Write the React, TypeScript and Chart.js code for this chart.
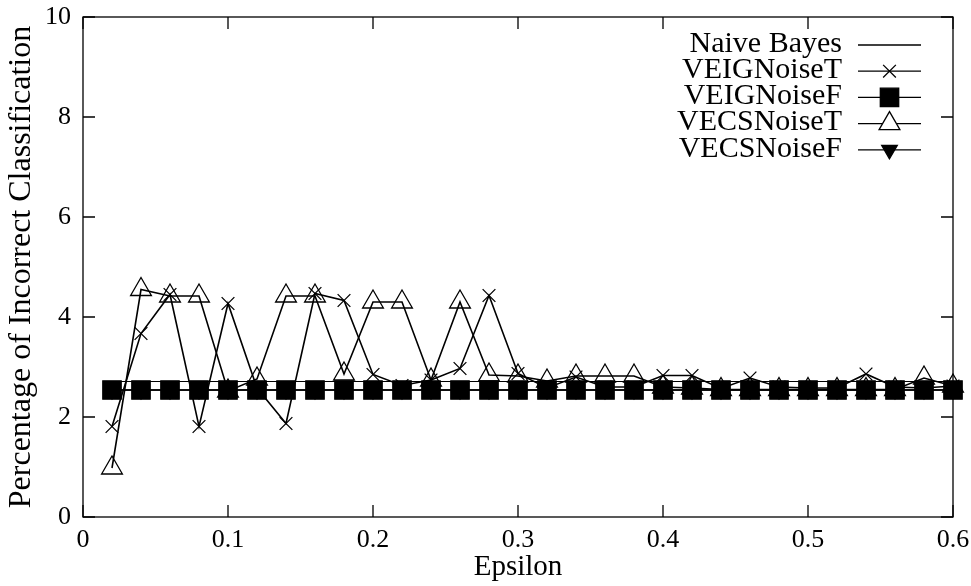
import React, { useEffect, useRef } from 'react';
import { Chart, registerables } from 'chart.js';

Chart.register(...registerables);

const epsilon = [0.02, 0.04, 0.06, 0.08, 0.1, 0.12, 0.14, 0.16, 0.18, 0.2, 0.22, 0.24, 0.26, 0.28, 0.3, 0.32, 0.34, 0.36, 0.38, 0.4, 0.42, 0.44, 0.46, 0.48, 0.5, 0.52, 0.54, 0.56, 0.58, 0.6];

const naiveBayes = [2.71, 2.71, 2.71, 2.71, 2.71, 2.71, 2.71, 2.71, 2.71, 2.71, 2.71, 2.71, 2.71, 2.71, 2.71, 2.71, 2.71, 2.71, 2.71, 2.71, 2.71, 2.71, 2.71, 2.71, 2.71, 2.71, 2.71, 2.71, 2.71, 2.71];

const veigNoiseT = [1.81, 3.67, 4.45, 1.81, 4.27, 2.58, 1.87, 4.47, 4.33, 2.85, 2.63, 2.74, 2.97, 4.43, 2.87, 2.58, 2.8, 2.6, 2.6, 2.83, 2.83, 2.57, 2.78, 2.6, 2.58, 2.58, 2.86, 2.6, 2.58, 2.62];

const veigNoiseF = [2.54, 2.54, 2.54, 2.54, 2.54, 2.54, 2.54, 2.54, 2.54, 2.54, 2.54, 2.54, 2.54, 2.54, 2.54, 2.54, 2.54, 2.54, 2.54, 2.54, 2.54, 2.54, 2.54, 2.54, 2.54, 2.54, 2.54, 2.54, 2.54, 2.54];

const vecsNoiseT = [0.98, 4.55, 4.42, 4.42, 2.52, 2.76, 4.42, 4.42, 2.86, 4.3, 4.3, 2.74, 4.3, 2.84, 2.82, 2.72, 2.82, 2.82, 2.82, 2.6, 2.58, 2.55, 2.55, 2.55, 2.55, 2.55, 2.55, 2.55, 2.78, 2.62];

const vecsNoiseF = [2.54, 2.54, 2.54, 2.54, 2.54, 2.54, 2.54, 2.54, 2.54, 2.54, 2.54, 2.54, 2.54, 2.54, 2.54, 2.54, 2.54, 2.54, 2.54, 2.54, 2.54, 2.54, 2.54, 2.54, 2.54, 2.54, 2.54, 2.54, 2.54, 2.54];

const seriesLabels = ['Naive Bayes', 'VEIGNoiseT', 'VEIGNoiseF', 'VECSNoiseT', 'VECSNoiseF'];
const xTickLabels = ['0', '0.1', '0.2', '0.3', '0.4', '0.5', '0.6'];
const yTickLabels = ['0', '2', '4', '6', '8', '10'];
const xTitle = 'Epsilon';
const yTitle = 'Percentage of Incorrect Classification';

const FONT = "'Liberation Serif', 'Times New Roman', serif";

type Marker = { style: string; radius: number; fill: string; rotation: number; open: boolean };

const markers: Marker[] = [
  { style: 'none', radius: 0, fill: '#000', rotation: 0, open: false },
  { style: 'crossRot', radius: 9, fill: '#000', rotation: 0, open: false },
  { style: 'rect', radius: 13, fill: '#000', rotation: 0, open: false },
  { style: 'triangle', radius: 12, fill: 'rgba(0,0,0,0)', rotation: 0, open: true },
  { style: 'triangle', radius: 9, fill: '#000', rotation: 180, open: false },
];

function drawMarker(ctx: CanvasRenderingContext2D, m: Marker, x: number, y: number) {
  if (m.style === 'none') return;
  ctx.save();
  ctx.translate(x, y);
  ctx.rotate((m.rotation * Math.PI) / 180);
  ctx.beginPath();
  const r = m.radius;
  const fill = m.open ? '#fff' : m.fill;
  if (m.style === 'crossRot') {
    const o = r * Math.SQRT1_2;
    ctx.moveTo(-o, -o);
    ctx.lineTo(o, o);
    ctx.moveTo(-o, o);
    ctx.lineTo(o, -o);
    ctx.stroke();
  } else if (m.style === 'rect') {
    const s = r * Math.SQRT1_2;
    ctx.rect(-s, -s, 2 * s, 2 * s);
    ctx.fillStyle = fill;
    ctx.fill();
    ctx.stroke();
  } else if (m.style === 'triangle') {
    const w = Math.sin((2 * Math.PI) / 3) * r;
    ctx.moveTo(0, -r);
    ctx.lineTo(w, r / 2);
    ctx.lineTo(-w, r / 2);
    ctx.closePath();
    ctx.fillStyle = fill;
    ctx.fill();
    ctx.stroke();
  }
  ctx.restore();
}

const frameAndLegend = {
  id: 'frameAndLegend',
  afterDatasetsDraw(chart: any) {
    const { ctx, chartArea } = chart;
    const { left, right, top, bottom } = chartArea;
    const xs = chart.scales.x;
    const ys = chart.scales.y;
    ctx.save();
    ctx.strokeStyle = '#000';
    ctx.lineWidth = 1.3;
    ctx.strokeRect(left, top, right - left, bottom - top);
    const len = 12;
    ctx.beginPath();
    xs.ticks.forEach((t: any) => {
      const px = xs.getPixelForValue(t.value);
      ctx.moveTo(px, bottom);
      ctx.lineTo(px, bottom - len);
      ctx.moveTo(px, top);
      ctx.lineTo(px, top + len);
    });
    ys.ticks.forEach((t: any) => {
      const py = ys.getPixelForValue(t.value);
      ctx.moveTo(left, py);
      ctx.lineTo(left + len, py);
      ctx.moveTo(right, py);
      ctx.lineTo(right - len, py);
    });
    ctx.stroke();

    // legend (top-right inside plot)
    const textRight = right - 111;
    const sampleLeft = right - 95;
    const sampleRight = right - 32;
    const rowTop = top + 28;
    const rowGap = 26.2;
    ctx.font = `30px ${FONT}`;
    ctx.textAlign = 'right';
    ctx.textBaseline = 'middle';
    chart.data.datasets.forEach((ds: any, i: number) => {
      const yy = rowTop + i * rowGap;
      ctx.fillStyle = '#000';
      ctx.fillText(ds.label, textRight, yy - 1);
      ctx.lineWidth = 1.3;
      ctx.beginPath();
      ctx.moveTo(sampleLeft, yy);
      ctx.lineTo(sampleRight, yy);
      ctx.stroke();
      drawMarker(ctx, markers[i], (sampleLeft + sampleRight) / 2, yy);
    });
    ctx.restore();
  },
};

export default function App() {
  const ref = useRef<HTMLCanvasElement | null>(null);

  useEffect(() => {
    if (!ref.current) return;
    const series = [naiveBayes, veigNoiseT, veigNoiseF, vecsNoiseT, vecsNoiseF];
    const datasets = series.map((vals, i) => {
      const m = markers[i];
      return {
        label: seriesLabels[i],
        data: epsilon.map((e, k) => ({ x: e, y: vals[k] })),
        borderColor: '#000',
        borderWidth: i === 0 ? 1.2 : 1.6,
        pointStyle: m.style === 'none' ? false : m.style,
        pointRadius: m.radius,
        pointRotation: m.rotation,
        pointBorderColor: '#000',
        pointBackgroundColor: m.fill,
        pointBorderWidth: 1.3,
        pointHoverRadius: m.radius,
        tension: 0,
        fill: false,
        clip: false,
        order: 5 - i,
      };
    });

    const chart = new Chart(ref.current, {
      type: 'line',
      data: { datasets } as any,
      options: {
        responsive: false,
        animation: false,
        events: [],
        layout: { padding: { left: 0, top: 17, right: 18, bottom: 0 } },
        plugins: { legend: { display: false }, tooltip: { enabled: false } },
        scales: {
          x: {
            type: 'linear',
            min: 0,
            max: 0.6,
            grid: { display: false, drawTicks: false },
            border: { display: false },
            ticks: {
              stepSize: 0.1,
              padding: 8,
              color: '#000',
              maxRotation: 0,
              autoSkip: false,
              font: { family: FONT, size: 26 },
              callback: (_v: any, i: number) => xTickLabels[i],
            },
            title: {
              display: true,
              text: xTitle,
              color: '#000',
              font: { family: FONT, size: 29 },
              padding: { top: 0, bottom: 1 },
            },
            afterFit: (s: any) => {
              s.height = 69;
              s.paddingLeft = 0;
              s.paddingRight = 0;
            },
          },
          y: {
            type: 'linear',
            min: 0,
            max: 10,
            grid: { display: false, drawTicks: false },
            border: { display: false },
            ticks: {
              stepSize: 2,
              padding: 12,
              color: '#000',
              font: { family: FONT, size: 26 },
              callback: (_v: any, i: number) => yTickLabels[i],
            },
            title: {
              display: true,
              text: yTitle,
              color: '#000',
              font: { family: FONT, size: 32 },
              padding: { top: 2, bottom: 0 },
            },
            afterFit: (s: any) => {
              s.width = 83;
              s.paddingTop = 0;
              s.paddingBottom = 0;
            },
          },
        },
      },
      plugins: [frameAndLegend],
    } as any);
    return () => chart.destroy();
  }, []);

  return (
    <div style={{ position: 'absolute', left: 0, top: 0, width: 971, height: 586, background: '#fff' }}>
      <canvas ref={ref} width={971} height={586} />
    </div>
  );
}
